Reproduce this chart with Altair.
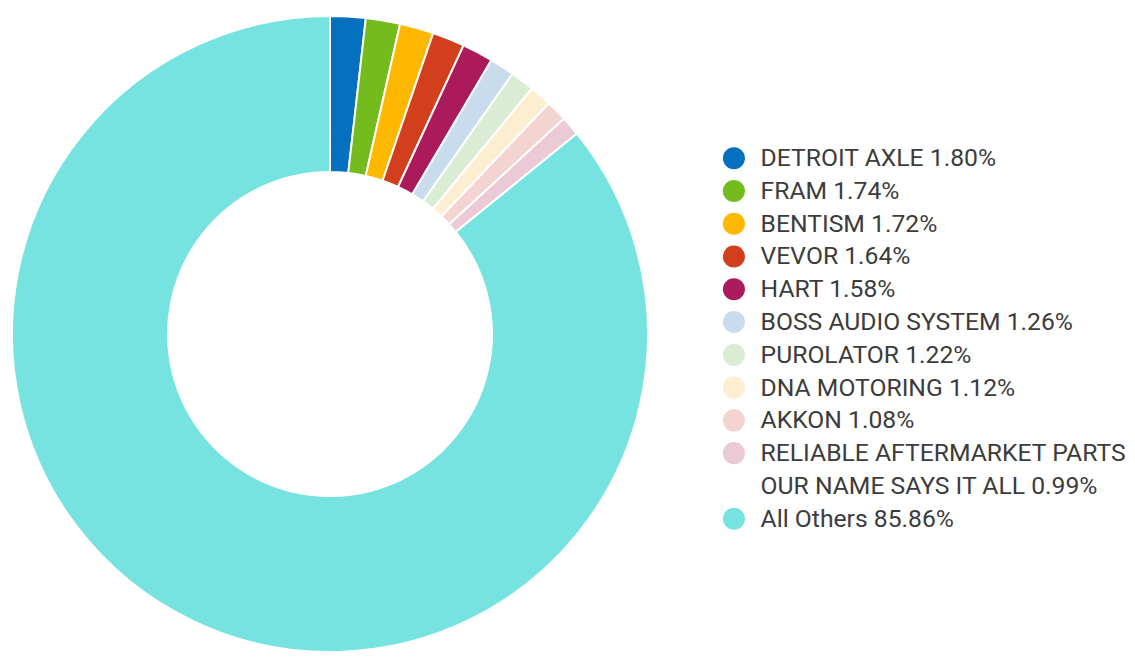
import altair as alt
import pandas as pd

brands = ["DETROIT AXLE", "FRAM", "BENTISM", "VEVOR", "HART", "BOSS AUDIO SYSTEM",
          "PUROLATOR", "DNA MOTORING", "AKKON",
          "RELIABLE AFTERMARKET PARTS\nOUR NAME SAYS IT ALL", "All Others"]
shares = [1.80, 1.74, 1.72, 1.64, 1.58, 1.26, 1.22, 1.12, 1.08, 0.99, 85.86]
colors = ["#0570c0", "#74bb1e", "#ffb800", "#d23f1c", "#ab1b5b", "#c8dced",
          "#daecd4", "#fdeed2", "#f3d4d0", "#ebcad6", "#76e3e0"]
# legend line slot of each entry (the long name wraps onto two lines)
slots = [0, 1, 2, 3, 4, 5, 6, 7, 8, 9, 11]

df = pd.DataFrame({
    "brand": brands,
    "share": shares,
    "idx": list(range(len(brands))),
    "slot": slots,
})
df["label"] = [f"{b} {s:.2f}%" for b, s in zip(brands, shares)]

color_scale = alt.Scale(domain=brands, range=colors)

pie = alt.Chart(df).mark_arc(
    innerRadius=164, outerRadius=322, stroke="white", strokeWidth=2
).encode(
    theta=alt.Theta("share:Q", stack=True),
    order=alt.Order("idx:Q"),
    color=alt.Color("brand:N", scale=color_scale, legend=None),
).properties(width=644, height=644)

yscale = alt.Scale(domain=[0, 11], range=[144, 509])

dots = alt.Chart(df).mark_circle(size=500, opacity=1).encode(
    x=alt.value(83),
    y=alt.Y("slot:Q", scale=yscale, axis=None),
    color=alt.Color("brand:N", scale=color_scale, legend=None),
)

texts = alt.Chart(df).mark_text(
    align="left", baseline="middle", font="Roboto", fontSize=25,
    color="#3c3c3c", lineBreak="\n", lineHeight=33
).encode(
    x=alt.value(110),
    y=alt.Y("slot:Q", scale=yscale, axis=None),
    text="label:N",
)

legend = alt.layer(dots, texts).properties(width=466, height=644)

chart = alt.hconcat(pie, legend, spacing=0).properties(
    padding={"left": 0, "top": 0, "right": 0, "bottom": 0}, background="white"
).configure_view(strokeWidth=0)

chart.save("out.html", embed_options={"renderer": "svg", "actions": False})
